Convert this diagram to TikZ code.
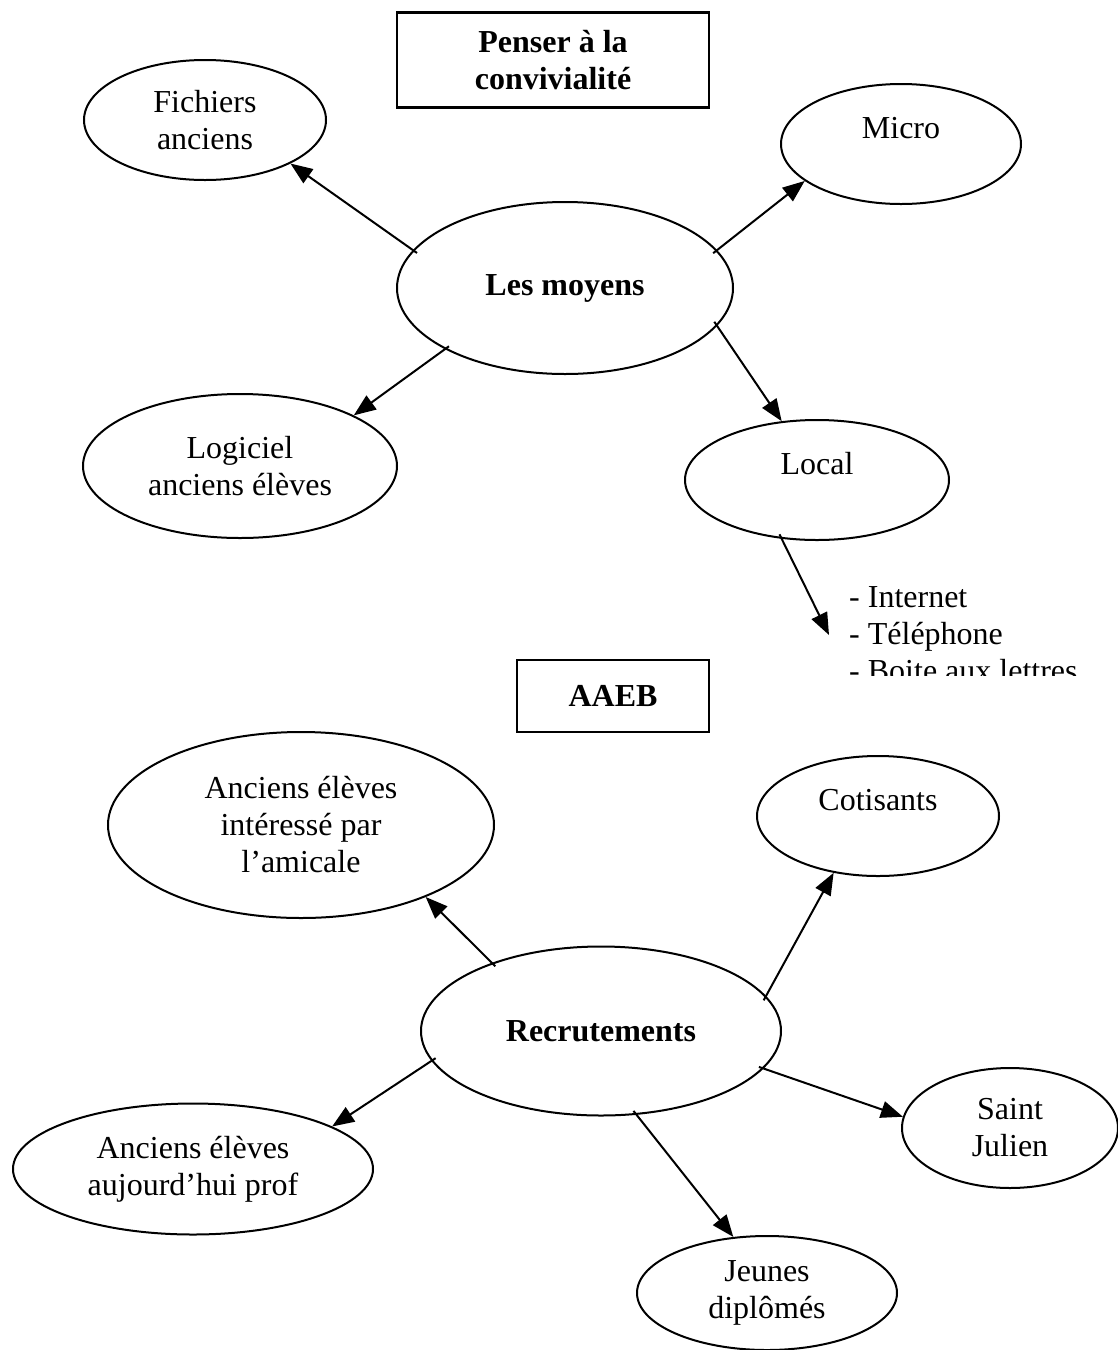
\documentclass[tikz,border=0pt]{standalone}
\usepackage{fontspec}
\setmainfont{Liberation Serif}
\usetikzlibrary{arrows.meta,shapes.geometric}

\begin{document}
\begin{tikzpicture}[x=1pt,y=-1pt,
  font=\fontsize{32}{37}\selectfont,
  bulle/.style={draw, ellipse, line width=2pt, inner sep=0pt, align=center},
  cadre/.style={draw, rectangle, line width=2.5pt, inner sep=0pt, align=center},
  fleche/.style={line width=2pt, -{Triangle[length=22pt,width=17pt]}, shorten <=-5pt}]
\useasboundingbox (0,0) rectangle (1118,1350);
\node[cadre, minimum width=312, minimum height=95] (penser) at (553,60) {\textbf{Penser à la}\\\textbf{convivialité}};
\node[bulle, minimum width=242, minimum height=120] (fichiers) at (205,120) {Fichiers\\anciens};
\node[bulle, minimum width=240, minimum height=120, label={[yshift=16pt]center:Micro}] (micro) at (901,144) {};
\node[bulle, minimum width=336, minimum height=172] (moyens) at (565,288) {\textbf{Les moyens}};
\node[bulle, minimum width=314, minimum height=144] (logiciel) at (240,466) {Logiciel\\anciens élèves};
\node[bulle, minimum width=264, minimum height=120, label={[yshift=16pt]center:Local}] (local) at (817,480) {};
\begin{scope}
\clip (820,560) rectangle (1118,675);
\node[anchor=west, align=left, inner sep=0pt] (liste) at (849,634) {- Internet\\- Téléphone\\- Boite aux lettres};
\end{scope}
\coordinate (pointe) at (829,635);
\draw[fleche] (moyens.166) -- (fichiers.333);
\draw[fleche] (moyens.14) -- (micro.201);
\draw[fleche] (moyens.207) -- (logiciel.24);
\draw[fleche] (moyens.346) -- (local.121);
\draw[fleche] (local.239) -- (pointe);
\node[cadre, minimum width=192, minimum height=72] (aaeb) at (613,696) {\textbf{AAEB}};
\node[bulle, minimum width=386, minimum height=186] (interesse) at (301,825) {Anciens élèves\\intéressé par\\l’amicale};
\node[bulle, minimum width=242, minimum height=120, label={[yshift=16pt]center:Cotisants}] (cotisants) at (878,816) {};
\node[bulle, minimum width=360, minimum height=169] (recrutements) at (601,1031) {\textbf{Recrutements}};
\node[bulle, minimum width=216, minimum height=120] (saint) at (1010,1128) {Saint\\Julien};
\node[bulle, minimum width=360, minimum height=131] (prof) at (193,1169) {Anciens élèves\\aujourd’hui prof};
\node[bulle, minimum width=260, minimum height=114] (jeunes) at (767,1293) {Jeunes\\diplômés};
\draw[fleche] (recrutements.148) -- (interesse.330);
\draw[fleche] (recrutements.12) -- (cotisants.232);
\draw[fleche] (recrutements.347) -- (saint.174);
\draw[fleche] (recrutements.293) -- (jeunes.121);
\draw[fleche] (recrutements.190) -- (prof.17);
\end{tikzpicture}
\end{document}
